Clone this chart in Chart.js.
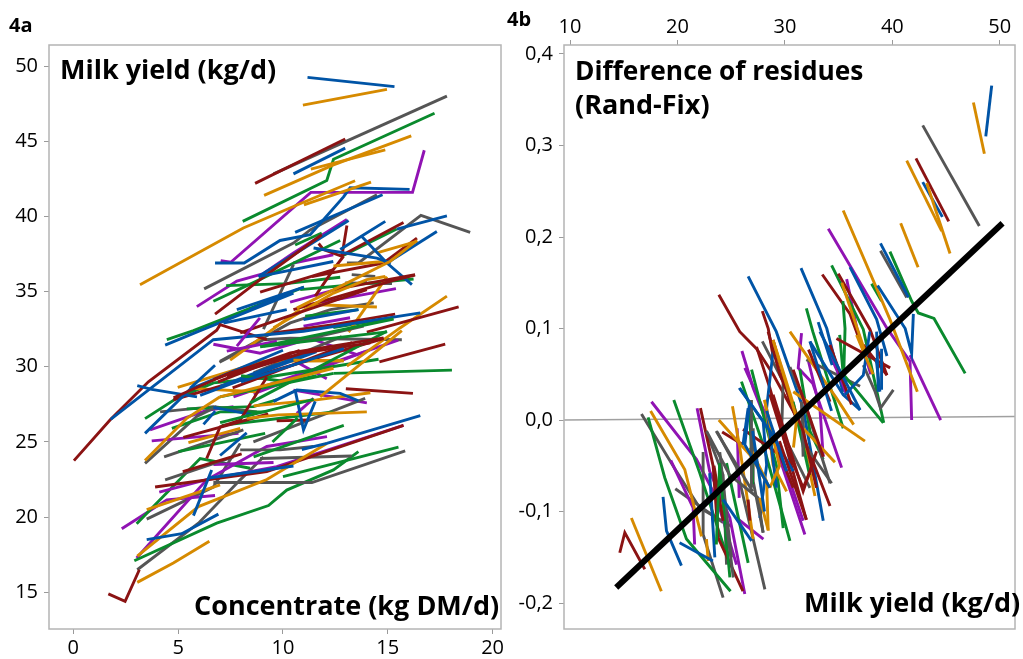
<!DOCTYPE html>
<html>
<head>
<meta charset="utf-8">
<title>Milk yield and residuals</title>
<script src="https://cdn.jsdelivr.net/npm/chart.js@4"></script>
<style>
  html, body { margin: 0; padding: 0; background: #fff; overflow: hidden; }
  #wrap { position: relative; width: 1023px; height: 659px; font-family: "Open Sans", sans-serif; color: #000; }
  canvas { position: absolute; top: 0; }
  .txt { position: absolute; font-weight: 700; font-size: 27px; line-height: 36px; white-space: nowrap; }
  .tag { position: absolute; font-weight: 700; font-size: 20px; line-height: 24px; }
</style>
</head>
<body>
<div id="wrap">
  <canvas id="chartA" width="512" height="659" style="left:0"></canvas>
  <canvas id="chartB" width="511" height="659" style="left:512px"></canvas>
  <div class="tag" style="left:9px;top:13px">4a</div>
  <div class="tag" style="left:507px;top:7px">4b</div>
  <div class="txt" style="left:60px;top:51px">Milk yield (kg/d)</div>
  <div class="txt" style="left:194px;top:587px">Concentrate (kg DM/d)</div>
  <div class="txt" style="left:575px;top:52px;font-size:26.3px">Difference of residues</div>
  <div class="txt" style="left:575px;top:86px">(Rand-Fix)</div>
  <div class="txt" style="left:804px;top:584px">Milk yield (kg/d)</div>
</div>
<script>
// === TICKS ===
const aXTicks = [0, 5, 10, 15, 20];
const aYTicks = [15, 20, 25, 30, 35, 40, 45, 50];
const bXTicks = [10, 20, 30, 40, 50];
const bYTicks = [-0.2, -0.1, 0, 0.1, 0.2, 0.3, 0.4];

// === 4a: concentrate vs milk yield, each row = x,y,x,y... ===
const aBlue = [
  [11.17,49.25, 15.32,48.63],
  [10.5,42.83, 12.97,44.54],
  [6.76,36.9, 8.15,36.9, 9.86,38.4, 11.3,38.78, 12.89,41.3, 13.2,41.9, 16.04,41.8],
  [10.58,38.94, 14.75,41.44],
  [8.83,36.0, 13.13,39.73],
  [12.73,37.8, 13.76,38.7, 14.88,39.67],
  [13.76,38.67, 14.96,36.9, 16.15,35.46],
  [14.96,36.9, 17.34,39.0],
  [15.43,39.16, 17.82,40.04],
  [11.46,37.9, 14.48,37.23, 15.15,36.9],
  [10.98,33.14, 13.6,33.8],
  [4.38,31.44, 6.05,32.4, 10.5,34.9],
  [7.16,32.9, 10.18,33.8],
  [1.78,26.5, 6.68,31.8, 10.98,32.36, 16.55,33.58],
  [3.05,28.75, 3.74,28.5, 5.9,28],
  [5.57,28.56, 6.76,30.1],
  [6.05,28.1, 11.6,31],
  [7,28.7, 11.62,31.15],
  [3.42,25.57, 5.57,28.5, 10,31.1],
  [6.68,27.3, 8.6,26.8],
  [9.55,27.7, 10.66,28.45, 12.73,28.23, 13.6,27.74],
  [10.58,28.45, 10.98,25.8, 11.54,27.7],
  [3.5,18.5, 5.17,18.9, 6.92,20.2],
  [10.9,24.5, 12.09,24.9, 16.55,26.75],
  [7,24.1, 8.27,25.6],
  [5.73,20.1, 6.6,23.14],
  [6.44,22.6, 10.5,23.4],
  [8,29, 12.9,31.2],
  [6.21,26.17, 6.77,27.05],
  [8.84,36, 12.4,37],
  [7.8,33.8, 11,35.3],
  [8.44,33.8, 10.2,34.9]
];
const aOrange = [
  [10.95,47.4, 14.96,48.45],
  [11.33,43.14, 14.88,44.42],
  [9.1,41.4, 12.41,43.43, 16.12,45.35],
  [3.18,35.46, 8.11,39.23, 10.5,40.66, 13.44,42.37],
  [11.0,40.77, 14.2,42.28],
  [14.48,37.57, 16.39,38.34],
  [12.41,36.7, 14.8,37.0],
  [13.13,32.3, 14.96,36.0],
  [11.38,34.14, 14.48,33.98],
  [13.05,30.04, 15.6,32.6, 17.82,34.7],
  [9.55,32.6, 12.41,34.9, 14,35.8, 14.88,36.0],
  [7.48,30.44, 9.23,32.2, 10.8,33.8],
  [4.98,28.63, 9.07,30.37, 12.9,30.4],
  [5.57,28.56, 8.75,28.34],
  [3.42,23.76, 5.41,26.57, 7,28],
  [5.49,24.96, 7.96,25.9],
  [8.27,26.57, 9.78,26.8, 14,27],
  [8.6,27.4, 11.6,27.8, 14.17,28.27],
  [3.5,20.5, 7,22.15],
  [3.05,17.4, 5.97,20.7, 9.23,22.5, 12.09,24.9],
  [3.05,15.66, 4.77,16.95, 6.49,18.4],
  [11.77,28, 15.67,32.4],
  [10.5,30.44, 12.89,30.4],
  [7,28, 12.41,29.9],
  [10.66,33.9, 15.1,37, 16.4,38.4]
];
const aRed = [
  [8.67,42.2, 12.97,45.15],
  [12.73,37.35, 15.75,39.6],
  [11.7,38.2, 11.93,37.8, 12.81,37.35, 13.05,39.4],
  [12.89,37.35, 12.4,36.46, 11.54,34.7],
  [14.8,36.9, 16.39,38.56],
  [11.38,36.0, 14.8,36.9],
  [8.91,34.96, 12.41,36.46],
  [6.76,33.5, 8.91,35.8, 11.85,38.78],
  [12.41,35.13, 16.3,36.13],
  [10.5,33.8, 15.4,35.8, 16.3,36.1],
  [14,32.3, 18.38,33.98],
  [9.55,32.25, 12.41,32.8, 15.35,33.5],
  [7.96,32.26, 10.03,33.25, 14,35.13],
  [0.03,23.76, 1.75,26.46, 3.58,29, 6.84,32.43, 7,32.8, 9.23,31.8],
  [4.77,27.8, 14.8,31.88],
  [5.25,25.3, 9.3,26.86],
  [9.7,26.4, 11.2,26.46],
  [13,28.54, 16.2,28.23],
  [3.9,22, 9.23,23.03, 15.75,26.1],
  [5.22,23.03, 8.03,24.2],
  [6.36,23.9, 7,26, 7.96,26.46, 9.23,29.3],
  [1.67,14.9, 2.47,14.4, 3.15,16.5],
  [14.6,30.33, 17.74,31.5],
  [7.6,28.6, 13.3,31.6],
  [6.9,29, 10.8,31.1],
  [6.69,29.16, 10.35,30.93, 14.8,31.92],
  [7.32,29.38, 10.98,30.93, 14.17,31.59],
  [4.78,27.94, 7.48,29.6, 10.35,30.7]
];
const aGreen = [
  [8.08,39.67, 12.09,42.39, 12.41,43.8, 17.23,46.86],
  [12.8,37.35, 15.43,39.16],
  [7.29,35.4, 10.18,35.53, 12.73,35.95],
  [6.68,34.36, 8.59,35.6, 12.73,38.4],
  [10.58,38.1, 11.85,38.9],
  [10.82,35.13, 16.23,35.84],
  [11.06,33.36, 13.6,33.8],
  [12.4,32.6, 15.24,33.24],
  [4.46,31.8, 5.73,32.4, 11,35.3],
  [3.42,26.55, 4.93,27.9, 6.69,28.93, 9.07,29.27, 14.56,30.5],
  [5.41,27.2, 8.6,27.35, 9.7,27.8],
  [4.7,25.9, 7,27, 9.23,27],
  [5.01,24.36, 9.15,25.57],
  [7.08,26.1, 9.2,26.46, 12.4,27],
  [3.02,19.56, 6.05,23.9, 8.43,23.25],
  [2.91,17.1, 6.84,19.6, 9.31,20.77, 10.18,21.8, 12.41,23.14, 13.6,24.36],
  [10,22.7, 15.51,24.65],
  [7,28, 12.41,29.56],
  [12.41,29.56, 18.06,29.78],
  [8.91,31.33, 14.96,32.32],
  [8,29.4, 10.2,29, 11.6,29.4],
  [9.5,25, 10.7,26.6],
  [8.6,24, 12.9,26.1],
  [8.44,27.6, 14.96,32.36],
  [9.07,31.37, 15.28,33.18],
  [7,26.28, 11.46,27.83]
];
const aPurple = [
  [7.03,37.06, 7.51,36.95, 11.33,41.6, 16.18,41.6, 16.74,44.4],
  [5.89,34.0, 7.8,35.7, 9.07,36.2, 10.5,37.57, 13.05,39.8],
  [10.5,36.9, 12.4,37.45],
  [10.34,34.3, 14,35.7],
  [10.98,34.07, 15.39,35.2],
  [10.98,32.7, 13.2,33.26],
  [6.68,31.5, 8.91,30.9, 11.3,31.88, 13.6,30.77],
  [7.64,28, 15.5,31.77],
  [10.5,30.44, 12.09,29.2],
  [8.6,28.2, 13.9,31],
  [3.66,25.8, 6.36,27.1, 7.64,27.35],
  [3.74,25.07, 7.88,25.57],
  [10.5,28.45, 14,27.6],
  [10.66,26.9, 11.46,27.9],
  [2.31,19.23, 4.46,21.15, 6.76,21.44],
  [3.02,17.28, 6.36,22.48, 9.23,24.7, 12.1,25.35],
  [4.1,21.66, 6.36,22.5, 9.7,23.36, 15.75,26.1],
  [6.68,23.5, 9.55,23.63],
  [7.32,31.04, 9.71,31.7],
  [7.8,31.37, 8.9,33.25]
];
const aGray = [
  [9.55,42.83, 17.82,48.0],
  [6.24,35.18, 10.5,38.23, 11.3,39.1, 14.48,41.44],
  [13.05,36.9, 13.6,36.9, 16.58,40.07, 18.93,38.94],
  [13.28,36.13, 14.4,36.0],
  [12.97,35.57, 15.2,35.53],
  [7,30.37, 10.35,32.92, 12.26,33.8, 14.33,34.25],
  [9.07,32.5, 10.5,36.8],
  [6.97,30.3, 9.07,31.8, 10.34,31.9, 15.67,31.8],
  [8.6,29.6, 12.8,32],
  [10.35,31.6, 13.85,32.7],
  [4.14,27, 6.68,27.35, 8.75,27],
  [3.42,23.58, 5.89,26.7, 6.84,27.35],
  [4.33,24, 8.11,25.8],
  [8.59,25, 13.92,27.9],
  [3.5,19.87, 6.68,22, 7.96,24.9],
  [3.05,16.5, 5.97,19.6, 7.96,22.48, 9.07,24],
  [6.68,22.3, 11.38,22.3, 15.83,24.4],
  [7.96,24.47, 9.86,24.47, 11.46,24.7],
  [8.91,23.9, 13.28,24.07],
  [4.38,22.48, 7.64,24]
];

// === 4b: milk yield vs difference of residues ===
const bBlue = [
  [49.25,0.3655, 48.7,0.31],
  [42.83,0.26, 44.66,0.222],
  [38.9,0.193, 41.5,0.134],
  [36.06,0.167, 38.54,0.11, 39.5,0.07],
  [38.63,0.147, 41.2,0.1, 41.8,0.073, 41.96,0.116],
  [31.5,0.166, 33.9,0.1, 35.4,0.031],
  [26.58,0.157, 29.2,0.0966, 31.7,0.013, 33.57,-0.11],
  [18.66,-0.084, 18.98,-0.121, 20.37,-0.159],
  [20.2,-0.134, 23.3,-0.154],
  [23,-0.058, 23.48,-0.15],
  [24.25,-0.087, 26.9,-0.132],
  [25.75,0.035, 27.98,-0.0015, 28.3,-0.049, 27.67,-0.107],
  [26.58,0.013, 26.1,-0.027],
  [28.9,0.075, 28.3,0.013, 29.22,-0.074],
  [32.33,0.0857, 35.43,0.0276, 37,0.011],
  [33.1,0.107, 34.4,0.06],
  [35.6,0.0276, 37.3,0.049, 37.9,0.0966],
  [38.54,0.0966, 38.7,0.031],
  [39,0.078, 39,0.033],
  [25.8,0.035, 28.6,-0.012, 30.77,-0.056],
  [26.7,0.017, 26.27,-0.027, 28.6,-0.074],
  [28.3,0.01, 30.15,-0.056],
  [32.33,0.086, 34.34,0.01],
  [33.26,0.0966, 37,0.011],
  [38.5,0.067, 38.84,0.031],
  [27,-0.012, 28.1,-0.1]
];
const bOrange = [
  [47.55,0.347, 48.57,0.291],
  [41.34,0.2834, 44.6,0.2065],
  [43.2,0.259, 45.37,0.182],
  [40.78,0.215, 42.4,0.167],
  [35.43,0.229, 39.78,0.11, 42.33,0.031],
  [15.71,-0.107, 18.5,-0.187],
  [17.5,0.01, 20.68,-0.054, 22.24,-0.127],
  [22.7,-0.13, 22.86,-0.154],
  [23.85,0, 26.74,-0.038, 28.6,-0.074],
  [25.12,0.015, 25.8,-0.03, 27.05,-0.13],
  [28.9,0.0875, 31.4,-0.005, 32.8,-0.083],
  [28.14,0.022, 28.9,-0.049, 30.16,-0.078],
  [26.74,-0.03, 28.3,-0.067, 28.45,-0.121],
  [30.78,0.031, 37.45,-0.023],
  [30.47,0.0966, 34.8,0.024, 36.4,-0.005],
  [31.7,-0.009, 34.66,-0.046],
  [35.3,0.15, 37.6,0.07],
  [28.9,0.087, 31.1,0.002, 30.8,-0.03],
  [28.1,0.022, 29.5,-0.05, 28.6,-0.074],
  [36.67,0.093, 38.2,0.05],
  [27.66,-0.085, 28.44,-0.12]
];
const bRed = [
  [42.2,0.286, 45.25,0.217],
  [33.48,0.159, 36.06,0.116, 37.5,0.07],
  [34.97,0.16, 37.92,0.099, 39.5,0.049],
  [23.85,0.137, 25.8,0.0966, 27.36,0.078, 28.9,0.05, 31.7,-0.01],
  [27.9,0.119, 28.45,0.1, 28.9,0.07],
  [14.63,-0.145, 15.1,-0.123, 16.96,-0.163],
  [22.14,0.013, 23.32,-0.05, 23.8,-0.129, 26.1,-0.187],
  [23.4,-0.05, 24.25,-0.11],
  [24.16,-0.013, 26.1,-0.027],
  [27.36,0.08, 28.6,0.035, 32,-0.109],
  [28.9,0.0875, 30.47,0.02, 34.2,-0.094],
  [26.58,-0.087, 26.74,-0.11],
  [26.1,-0.01, 29.53,-0.038, 30.78,-0.074],
  [28.9,0.0276, 31.4,-0.067, 31.7,-0.078, 32.95,-0.034],
  [37.3,0.082, 39.5,0.049],
  [34.8,0.089, 39.8,0.057],
  [34.2,0.082, 36.2,0.017],
  [28.44,0.0966, 29.53,0.05, 31.7,-0.012, 32.94,-0.074],
  [28.6,0.028, 30.15,-0.03, 31.7,-0.074, 32.6,-0.049],
  [30.77,0.055, 31.7,0.024, 33.57,-0.04],
  [32.2,0.077, 34.2,0.02],
  [29.5,-0.023, 32,-0.109]
];
const bGreen = [
  [39.78,0.184, 41.8,0.13, 42.42,0.117, 43.88,0.111, 46.78,0.051],
  [34.35,0.169, 37.3,0.099, 39.2,-0.003],
  [38.07,0.149, 39,0.13],
  [32,0.122, 32.6,0.0966, 35.43,-0.009],
  [35.4,0.13, 35.6,0.1, 35.43,0.031],
  [17.27,0.003, 18.82,-0.063, 20.84,-0.13, 24.94,-0.187],
  [19.66,0.022, 22.08,-0.058, 24.57,-0.147],
  [23.9,-0.047, 24.88,-0.172],
  [24.57,-0.047, 26.58,-0.156],
  [25.96,0.042, 27.98,-0.027, 30.47,-0.132],
  [26.9,0.055, 29.2,-0.049, 29.84,-0.118],
  [31.4,0.055, 32.33,-0.012, 33.57,-0.043],
  [30.77,0.02, 32.3,-0.06],
  [26.7,0.017, 27,-0.07],
  [35.1,0.093, 35.43,0.05, 39.16,-0.003],
  [23.93,-0.049, 23.62,-0.136]
];
const bPurple = [
  [34.04,0.209, 39.47,0.101, 41.65,0.064, 41.8,0],
  [35.75,0.154, 36.7,0.1, 38,0.05],
  [41.65,0.071, 44.5,0],
  [17.58,0.02, 21.77,-0.043, 23.63,-0.085, 25.5,-0.158],
  [19.38,-0.044, 21.46,-0.096, 21.6,-0.136],
  [21.83,0.013, 23,-0.056, 24.88,-0.107, 26.27,-0.19],
  [25.5,-0.107, 28,-0.13],
  [26,0.0755, 27.05,0.035, 28.9,-0.02, 31.86,-0.125],
  [25.56,-0.009, 25.75,-0.085],
  [26.27,0.057, 28.9,-0.012, 31.7,-0.11],
  [31.55,0.095, 31.24,0.057, 32.6,0.04, 35.28,-0.052],
  [32.2,0.064, 33.26,0.013, 33.57,-0.04],
  [34.2,0.082, 35.74,0.027],
  [34.2,0.071, 35.75,0.031]
];
const bGray = [
  [42.83,0.322, 48.1,0.212],
  [38.9,0.185, 41.34,0.134],
  [16.65,0.0065, 19.9,-0.056, 22.08,-0.096, 25.03,-0.116],
  [19.8,-0.075, 24.25,-0.112],
  [22.7,-0.013, 24.25,-0.06, 24.57,-0.158],
  [22.39,-0.035, 22.39,-0.125, 24.25,-0.194],
  [23.7,-0.013, 25.5,-0.052, 28.14,-0.185],
  [23.94,-0.035, 25.03,-0.15],
  [24.57,-0.114, 25.2,-0.172],
  [27.05,-0.009, 27.05,-0.067, 27.98,-0.123],
  [27.9,0.086, 29.84,0.042, 29.7,-0.012, 32.33,-0.074],
  [31.55,0.02, 31.86,-0.027, 34.35,-0.069],
  [30.47,0.058, 31.7,0.024, 34.2,-0.069],
  [32,0.066, 37,0.037],
  [40.1,0.033, 38.9,0.013, 38.4,0.031, 37.3,0.06],
  [26.89,0.022, 26.89,-0.074],
  [31.55,0.02, 31.7,-0.04],
  [22.7,-0.012, 24.86,-0.06, 27.5,-0.085, 27.97,-0.123],
  [23.6,-0.012, 27,-0.078]
];
const fitLine = [14.3,-0.183, 50.26,0.215];
const zeroLine = [9.44,0, 51.42,0.004];

// === COLOURS ===
const BLUE = '#0054a6', ORANGE = '#d68a00', RED = '#8b1313', GREEN = '#0a8a2d', PURPLE = '#9013b3', GRAY = '#555555';
const FRAME = '#b4b4b4';

const toPoints = row => {
  const pts = [];
  for (let i = 0; i < row.length; i += 2) pts.push({ x: row[i], y: row[i + 1] });
  return pts;
};
const lineSet = (row, color, width = 2.9) => ({
  data: toPoints(row), borderColor: color, borderWidth: width, pointRadius: 0, tension: 0, fill: false,
  borderCapStyle: 'butt', borderJoinStyle: 'miter'
});

// mix the colours so no colour ends up all on top
function mixed(groups) {
  const out = [];
  const longest = Math.max(...groups.map(g => g[0].length));
  for (let i = longest - 1; i >= 0; i--) {
    groups.forEach(([rows, color]) => { if (rows[i]) out.push(lineSet(rows[i], color)); });
  }
  return out;
}

// frame round the plot
const framePlugin = {
  id: 'frame',
  afterDraw(chart) {
    const { ctx, chartArea: a } = chart;
    ctx.save();
    ctx.strokeStyle = FRAME;
    ctx.lineWidth = 1.5;
    ctx.strokeRect(a.left, a.top, a.right - a.left, a.bottom - a.top);
    ctx.restore();
  }
};

const axis = (min, max, ticks, position, size, pad, cb) => ({
  type: 'linear', min, max, position,
  afterBuildTicks: s => { s.ticks = ticks.map(value => ({ value })); },
  afterFit: s => { if (s.isHorizontal()) s.height = size; else s.width = size; },
  grid: { drawOnChartArea: false, drawTicks: true, tickLength: 5, color: '#9a9a9a' },
  border: { display: false },
  ticks: { color: '#000', font: { family: '"Open Sans"', size: 20 }, padding: pad, maxRotation: 0, autoSkip: false, callback: cb }
});
const baseOptions = (padding, x, y) => ({
  responsive: false, animation: false, devicePixelRatio: 1,
  layout: { padding },
  plugins: { legend: { display: false }, tooltip: { enabled: false } },
  scales: { x, y }
});

new Chart(document.getElementById('chartA'), {
  type: 'line',
  data: { datasets: mixed([[aBlue, BLUE], [aOrange, ORANGE], [aRed, RED], [aGreen, GREEN], [aPurple, PURPLE], [aGray, GRAY]]) },
  options: baseOptions({ left: 0, right: 11, top: 45, bottom: 0 },
    axis(-1.16, 20.4, aXTicks, 'bottom', 30, 2, v => String(v)),
    axis(12.56, 51.4, aYTicks, 'left', 49, 6, v => String(v))),
  plugins: [framePlugin]
});

const bSets = mixed([[bBlue, BLUE], [bOrange, ORANGE], [bRed, RED], [bGreen, GREEN], [bPurple, PURPLE], [bGray, GRAY]]);
bSets.unshift(lineSet(fitLine, '#000', 6));
bSets.push(lineSet(zeroLine, '#a0a0a0', 1.5));

new Chart(document.getElementById('chartB'), {
  type: 'line',
  data: { datasets: bSets },
  options: baseOptions({ left: 0, right: 8, top: 0, bottom: 30 },
    axis(9.44, 51.42, bXTicks, 'top', 45, 1, v => String(v)),
    axis(-0.2283, 0.4098, bYTicks, 'left', 52, 6, v => v.toFixed(1).replace('.', ','))),
  plugins: [framePlugin]
});
</script>
</body>
</html>
